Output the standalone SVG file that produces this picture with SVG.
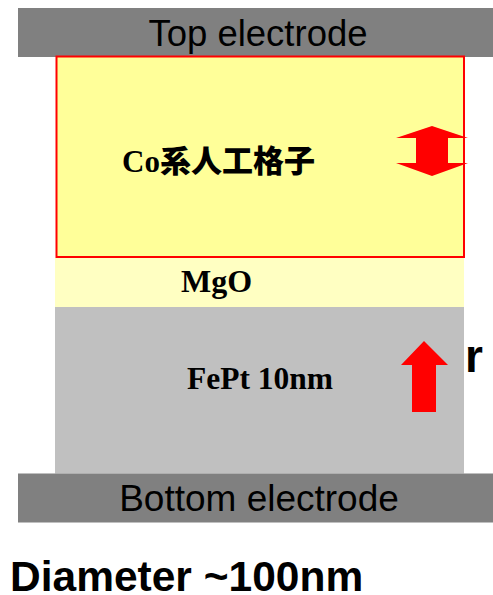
<svg xmlns="http://www.w3.org/2000/svg" width="493" height="595" viewBox="0 0 493 595">
<style>
.elec{fill:#808080}
.etxt{font-family:"Liberation Sans",Arial,sans-serif;fill:#000;text-anchor:middle}
.lbl{font-family:"Liberation Serif","Noto Sans CJK JP",serif;font-weight:bold;fill:#000}
.arr{fill:#FF0000}
</style>
<rect width="493" height="595" fill="#fff"/>
<g id="top-electrode">
<rect class="elec" x="18" y="8" width="475" height="49"/>
<text class="etxt" x="258" y="46" font-size="36.5">Top electrode</text>
</g>
<g id="co-layer">
<rect x="56.5" y="56.5" width="407.5" height="200.5" fill="#FFFF99" stroke="#FF0000" stroke-width="2"/>
<text class="lbl" x="122" y="172" font-size="31">Co<tspan font-family="'Noto Sans CJK JP',sans-serif" font-weight="900">系人工格子</tspan></text>
</g>
<g id="mgo-layer">
<rect x="55" y="258" width="409" height="49" fill="#FFFFC2"/>
<text class="lbl" x="181" y="292" font-size="32">MgO</text>
</g>
<text x="465" y="372" font-family="'Liberation Sans',Arial,sans-serif" font-weight="bold" font-size="46" fill="#000">r</text>
<g id="fept-layer">
<rect x="55" y="307" width="409" height="166.5" fill="#C0C0C0"/>
<text class="lbl" x="187" y="389" font-size="31.5">FePt 10nm</text>
</g>
<g id="bottom-electrode">
<rect class="elec" x="18" y="473.5" width="475" height="49"/>
<text class="etxt" x="259" y="511" font-size="37">Bottom electrode</text>
</g>
<g id="arrows">
<polygon class="arr" points="432,126 468,138 448,138 448,163 468,163 432,176 396,163 416,163 416,138 396,138"/>
<polygon class="arr" points="424,341 448,365 436,365 436,412 412,412 412,365 401,365"/>
</g>
<text x="10" y="591" font-family="'Liberation Sans',Arial,sans-serif" font-weight="bold" font-size="42.5" fill="#000">Diameter ~100nm</text>
</svg>
